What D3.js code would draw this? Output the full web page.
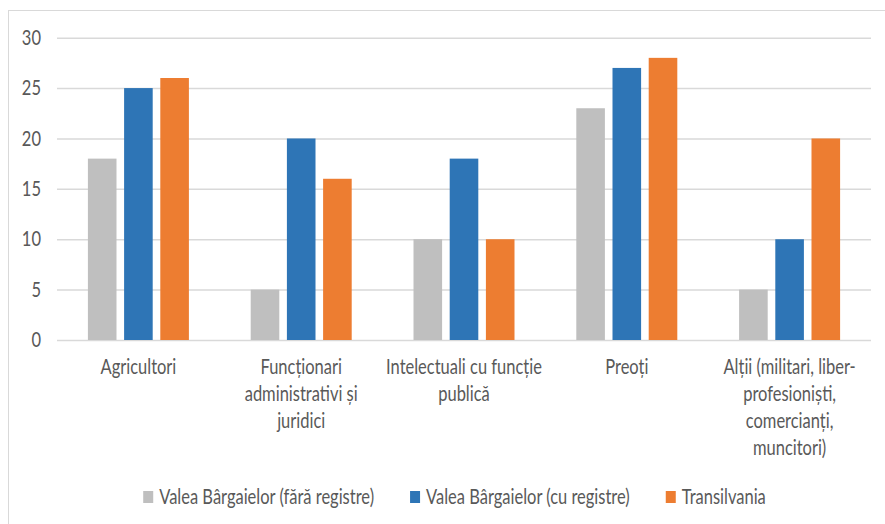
<!DOCTYPE html>
<html>
<head>
<meta charset="utf-8">
<script src="https://cdn.jsdelivr.net/npm/d3@7"></script>
<style>
  body { margin: 0; background: #fff; }
  text { font-family: Lato, "Open Sans", sans-serif; fill: #595959; }
</style>
</head>
<body>
<svg width="885" height="524"></svg>
<script>
// data
const categories = ['Agricultori', 'Funcționari', 'Intelectuali', 'Preoți', 'Alții'];
const categoryLines = [
    ['Agricultori'],
    ['Funcționari', 'administrativi și', 'juridici'],
    ['Intelectuali cu funcție', 'publică'],
    ['Preoți'],
    ['Alții (militari, liber-', 'profesioniști,', 'comercianți,', 'muncitori)']
];
const seriesNames = ['Valea Bârgaielor (fără registre)', 'Valea Bârgaielor (cu registre)', 'Transilvania'];
const fara = [18, 5, 10, 23, 5];
const cu = [25, 20, 18, 27, 10];
const transilvania = [26, 16, 10, 28, 20];
const yTicks = [0, 5, 10, 15, 20, 25, 30];

const colors = ['#bfbfbf', '#2e75b6', '#ed7d31'];
const stretch = 1.25;   // the picture is a bit taller than wide
const fs = 16.5;

const svg = d3.select('svg');
const width = +svg.attr('width');
const height = +svg.attr('height');

// outer frame (right and bottom edges fall off the picture)
svg.append('rect')
    .attr('x', 8.5).attr('y', 10.5)
    .attr('width', width).attr('height', height)
    .attr('fill', 'none').attr('stroke', '#d9d9d9');

const margin = {left: 57, right: 14, top: 37.7, bottom: 184};
const innerW = width - margin.left - margin.right;
const innerH = height - margin.top - margin.bottom;

const g = svg.append('g').attr('transform', `translate(${margin.left},${margin.top})`);

const y = d3.scaleLinear().domain([0, 30]).range([innerH, 0]);
const x0 = d3.scaleBand().domain(categories).range([0, innerW]);
const groupW = 101;
const x1 = d3.scaleBand().domain(seriesNames)
    .range([(x0.bandwidth() - groupW) / 2, (x0.bandwidth() + groupW) / 2])
    .paddingInner(0.21);

const yAxis = g.append('g')
    .call(d3.axisLeft(y).tickValues(yTicks).tickSize(-innerW).tickPadding(16));
yAxis.select('.domain').remove();
yAxis.selectAll('line').attr('stroke', '#d9d9d9').attr('stroke-width', 1.5);
yAxis.selectAll('text')
    .attr('font-size', fs)
    .attr('fill', '#595959')
    .style('font-family', 'Lato, sans-serif')
    .attr('transform', `scale(1,${stretch})`);

const rows = categories.map((c, i) => ({cat: c, values: [fara[i], cu[i], transilvania[i]]}));

const groups = g.selectAll('.grp')
    .data(rows)
    .enter().append('g')
        .attr('class', 'grp')
        .attr('transform', d => `translate(${x0(d.cat)},0)`);

groups.selectAll('rect')
    .data(d => d.values.map((v, j) => ({name: seriesNames[j], v, j})))
    .enter().append('rect')
        .attr('x', d => x1(d.name))
        .attr('width', x1.bandwidth())
        .attr('y', d => y(d.v))
        .attr('height', d => innerH - y(d.v))
        .attr('fill', d => colors[d.j]);

// category labels, wrapped like the original
const labels = g.selectAll('.cat')
    .data(categories)
    .enter().append('text')
        .attr('class', 'cat')
        .attr('text-anchor', 'middle')
        .attr('font-size', fs)
        .attr('transform', d => `translate(${x0(d) + x0.bandwidth() / 2},${innerH + 34}) scale(1,${stretch})`);

labels.selectAll('tspan')
    .data((d, i) => categoryLines[i])
    .enter().append('tspan')
        .attr('x', 0)
        .attr('dy', (d, i) => i === 0 ? 0 : 27 / stretch)
        .text(d => d);

// legend
const legend = svg.append('g');
let lx = 0;
seriesNames.forEach((name, i) => {
    const item = legend.append('g').attr('transform', `translate(${lx},0)`);
    item.append('rect')
        .attr('x', 0).attr('y', -6)
        .attr('width', 10).attr('height', 12)
        .attr('fill', colors[i]);
    const t = item.append('text')
        .attr('font-size', fs)
        .attr('transform', `translate(16,0) scale(1,${stretch})`)
        .attr('dy', '0.35em')
        .text(name);
    lx += 16 + t.node().getComputedTextLength() + 36;
});
const legendW = lx - 36;
legend.attr('transform', `translate(${454.5 - legendW / 2},497)`);
</script>
</body>
</html>
